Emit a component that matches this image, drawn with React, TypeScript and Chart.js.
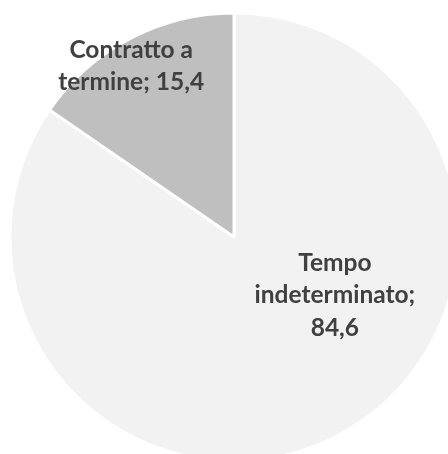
import React, { useEffect, useRef } from "react";
import { Chart, registerables } from "chart.js";

Chart.register(...registerables);

const categories = ["Tempo indeterminato", "Contratto a termine"];
const values = [84.6, 15.4];
const sliceColors = ["#F2F2F2", "#BFBFBF"];
// label placement inside each slice: fraction along the arc's sweep, fraction of radius
const labelSweepFrac = [0.394, 0.44];
const labelRadiusFrac = [0.52, 0.89];

const FONT = "bold 24.5px Lato";
const LINE_H = 32.5;
const WRAP_W = 172;

function wrap(ctx: CanvasRenderingContext2D, text: string, maxW: number): string[] {
  const words = text.split(" ");
  const lines: string[] = [];
  let cur = "";
  for (const w of words) {
    const t = cur ? cur + " " + w : w;
    if (cur && ctx.measureText(t).width > maxW) {
      lines.push(cur);
      cur = w;
    } else cur = t;
  }
  if (cur) lines.push(cur);
  return lines;
}

const labelPlugin = {
  id: "sliceLabels",
  afterDatasetsDraw(chart: any) {
    const ctx: CanvasRenderingContext2D = chart.ctx;
    const meta = chart.getDatasetMeta(0);
    ctx.save();
    ctx.font = FONT;
    ctx.fillStyle = "#404040";
    ctx.textAlign = "center";
    ctx.textBaseline = "middle";
    meta.data.forEach((arc: any, i: number) => {
      const { x, y, startAngle, endAngle, outerRadius } = arc.getProps(
        ["x", "y", "startAngle", "endAngle", "outerRadius"],
        true
      );
      const a = startAngle + (endAngle - startAngle) * labelSweepFrac[i];
      const r = outerRadius * labelRadiusFrac[i];
      const cx = x + Math.cos(a) * r;
      const cy = y + Math.sin(a) * r;
      const txt = categories[i] + "; " + values[i].toFixed(1).replace(".", ",");
      const lines = wrap(ctx, txt, WRAP_W);
      const top = cy - ((lines.length - 1) * LINE_H) / 2;
      lines.forEach((ln, k) => ctx.fillText(ln, cx, top + k * LINE_H));
    });
    ctx.restore();
  },
};

export default function App() {
  const ref = useRef<HTMLCanvasElement>(null);
  useEffect(() => {
    const chart = new Chart(ref.current!, {
      type: "pie",
      data: {
        labels: categories,
        datasets: [
          {
            data: values,
            backgroundColor: sliceColors,
            borderColor: "#FFFFFF",
            borderWidth: 3,
          },
        ],
      },
      options: {
        animation: false,
        responsive: false,
        radius: 224,
        layout: { padding: 0 },
        plugins: { legend: { display: false }, tooltip: { enabled: false } },
      } as any,
      plugins: [labelPlugin],
    });
    return () => chart.destroy();
  }, []);
  return (
    <div
      style={{
        position: "fixed",
        left: 0,
        top: 0,
        width: 448,
        height: 454,
        overflow: "hidden",
        background: "#fff",
      }}
    >
      <canvas
        ref={ref}
        width={468}
        height={474}
        style={{ position: "absolute", left: 0, top: 0, width: 468, height: 474 }}
      />
    </div>
  );
}
